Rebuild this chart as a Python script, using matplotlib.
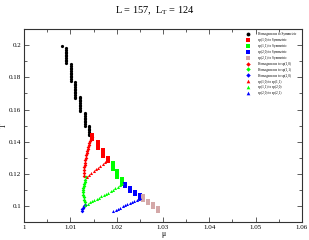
import matplotlib
matplotlib.use("Agg")
import matplotlib.pyplot as plt
from matplotlib.ticker import MultipleLocator

plt.rcParams['font.family'] = ['Liberation Serif', 'DejaVu Serif']

# Homogeneous to Symmetric (black circles)
hs_mu = [1.0081,
         1.0091, 1.0091, 1.0091, 1.0091, 1.0091, 1.0091, 1.0091, 1.0091, 1.0091, 1.0091,
         1.0101, 1.0101, 1.0101, 1.0101, 1.0101, 1.0101, 1.0101, 1.0101, 1.0101, 1.0101, 1.0101,
         1.0111, 1.0111, 1.0111, 1.0111, 1.0111, 1.0111, 1.0111, 1.0111, 1.0111, 1.0111, 1.0111,
         1.0121, 1.0121, 1.0121, 1.0121, 1.0121, 1.0121, 1.0121, 1.0121, 1.0121, 1.0121,
         1.0131, 1.0131, 1.0131, 1.0131, 1.0131, 1.0131, 1.0131, 1.0131, 1.0131,
         1.0141, 1.0141, 1.0141, 1.0141, 1.0141, 1.0141, 1.0141]
hs_T = [0.1996,
        0.198, 0.197, 0.196, 0.195, 0.194, 0.193, 0.192, 0.191, 0.190, 0.189,
        0.188, 0.187, 0.186, 0.185, 0.184, 0.183, 0.182, 0.181, 0.180, 0.179, 0.178,
        0.177, 0.176, 0.175, 0.174, 0.173, 0.172, 0.171, 0.170, 0.169, 0.168, 0.167,
        0.168, 0.167, 0.166, 0.165, 0.164, 0.163, 0.162, 0.161, 0.160, 0.159,
        0.158, 0.157, 0.156, 0.155, 0.154, 0.153, 0.152, 0.151, 0.150,
        0.150, 0.149, 0.148, 0.147, 0.146, 0.145, 0.144]

# sp(1,0) to Symmetric (red squares)
s10_mu = [1.0146, 1.0146, 1.0146, 1.0160, 1.0160, 1.0160, 1.0160, 1.0160,
          1.0171, 1.0171, 1.0171, 1.0171, 1.0171, 1.0181, 1.0181, 1.0181]
s10_T = [0.144, 0.143, 0.142, 0.140, 0.139, 0.138, 0.137, 0.136,
         0.135, 0.134, 0.133, 0.132, 0.131, 0.130, 0.129, 0.128]

# sp(1,1) to Symmetric (green squares)
s11_mu = [1.0191, 1.0191, 1.0191, 1.0191, 1.0191, 1.0200, 1.0200, 1.0200, 1.0200, 1.0200,
          1.0211, 1.0211, 1.0211, 1.0211]
s11_T = [0.127, 0.126, 0.125, 0.124, 0.123, 0.122, 0.121, 0.120, 0.119, 0.118,
         0.117, 0.116, 0.115, 0.114]

# sp(2,0) to Symmetric (blue squares)
s20_mu = [1.0218, 1.0218, 1.0229, 1.0229, 1.0240, 1.0240, 1.0250, 1.0250]
s20_T = [0.114, 0.1125, 0.111, 0.1095, 0.109, 0.1075, 0.107, 0.105]

# sp(2,1) to Symmetric (pink squares)
s21_mu = [1.0257, 1.0257, 1.0268, 1.0268, 1.0279, 1.0279, 1.0290, 1.0290]
s21_T = [0.106, 0.104, 0.1035, 0.102, 0.1015, 0.0995, 0.099, 0.0970]

# Homogeneous to sp(1,0) (red diamonds)
h10_mu = [1.0146, 1.0144, 1.0143, 1.0141, 1.0140, 1.0139, 1.0138, 1.0136, 1.0135,
          1.0134, 1.0133, 1.0132, 1.0131, 1.0131, 1.0130, 1.0130, 1.0130, 1.0130]
h10_T = [0.1430, 0.1415, 0.1405, 0.1392, 0.1380, 0.1367, 0.1355, 0.1342, 0.1330,
         0.1315, 0.1300, 0.1285, 0.1268, 0.1255, 0.1240, 0.1225, 0.1205, 0.1185]

# Homogeneous to sp(1,1) (green diamonds)
h11_mu = [1.0134, 1.0132, 1.0131, 1.0130, 1.0129, 1.0128, 1.0128, 1.0128, 1.0128,
          1.0129, 1.0130, 1.0131, 1.0132]
h11_T = [0.1181, 0.1165, 0.1150, 0.1138, 0.1125, 0.1112, 0.1100, 0.1085, 0.1070,
         0.1057, 0.1040, 0.1025, 0.1007]

# Homogeneous to sp(2,0) (blue diamonds)
h20_mu = [1.0132, 1.0130, 1.0128, 1.0126, 1.0125]
h20_T = [0.1007, 0.0998, 0.0990, 0.0980, 0.0972]

# sp(1,0) to sp(1,1) (red triangles)
t1_mu = [1.0135, 1.0140, 1.0145, 1.0150, 1.0155, 1.0160, 1.0165, 1.0170, 1.0175, 1.0180]
t1_T = [0.1183, 0.1195, 0.1206, 0.1217, 0.1228, 0.1239, 0.1250, 0.1262, 0.1273, 0.1285]

# sp(1,1) to sp(2,0) (green triangles)
t2_mu = [1.0132, 1.0137, 1.0142, 1.0147, 1.0152, 1.0157, 1.0162, 1.0167, 1.0172,
         1.0177, 1.0182, 1.0187, 1.0192, 1.0197, 1.0202, 1.0207, 1.0211]
t2_T = [0.1007, 0.1016, 0.1024, 0.1031, 0.1038, 0.1046, 0.1053, 0.1060, 0.1067,
        0.1075, 0.1083, 0.1092, 0.1101, 0.1111, 0.1121, 0.1132, 0.1142]

# sp(2,0) to sp(2,1) (blue triangles)
t3_mu = [1.0193, 1.0198, 1.0203, 1.0208, 1.0213, 1.0218, 1.0223, 1.0228, 1.0233,
         1.0238, 1.0243, 1.0248, 1.0250]
t3_T = [0.0972, 0.0978, 0.0985, 0.0991, 0.0998, 0.1005, 0.1012, 0.1018, 0.1025,
        0.1031, 0.1038, 0.1045, 0.1049]

x_ticks = [1.0, 1.01, 1.02, 1.03, 1.04, 1.05, 1.06]
x_labels = ['1', '1.01', '1.02', '1.03', '1.04', '1.05', '1.06']
y_ticks = [0.1, 0.12, 0.14, 0.16, 0.18, 0.2]
y_labels = ['0.1', '0.12', '0.14', '0.16', '0.18', '0.2']

pink = '#d4a8a8'

fig = plt.figure(figsize=(3.09, 2.40), dpi=100)
ax = fig.add_axes([0.078, 0.074, 0.899, 0.805])

ms = 2.3
ax.plot(hs_mu, hs_T, 'o', color='black', ms=2.3, mew=0, label='Homogeneous to Symmetric')
ax.plot(s10_mu, s10_T, 's', color='red', ms=ms, mew=0, label='sp(1,0) to Symmetric')
ax.plot(s11_mu, s11_T, 's', color='#00ff00', ms=ms, mew=0, label='sp(1,1) to Symmetric')
ax.plot(s20_mu, s20_T, 's', color='blue', ms=ms, mew=0, label='sp(2,0) to Symmetric')
ax.plot(s21_mu, s21_T, 's', color=pink, ms=ms, mew=0, label='sp(2,1) to Symmetric')
ax.plot(h10_mu, h10_T, 'D', color='red', ms=1.9, mew=0, label='Homogeneous to sp(1,0)')
ax.plot(h11_mu, h11_T, 'D', color='#00ff00', ms=1.9, mew=0, label='Homogeneous to sp(1,1)')
ax.plot(h20_mu, h20_T, 'D', color='blue', ms=1.9, mew=0, label='Homogeneous to sp(2,0)')
ax.plot(t1_mu, t1_T, '^', color='red', ms=2.2, mew=0, label='sp(1,0) to sp(1,1)')
ax.plot(t2_mu, t2_T, '^', color='#00ff00', ms=2.2, mew=0, label='sp(1,1) to sp(2,0)')
ax.plot(t3_mu, t3_T, '^', color='blue', ms=2.2, mew=0, label='sp(2,0) to sp(2,1)')

ax.set_xlim(1.0, 1.06)
ax.set_ylim(0.09, 0.21)
ax.set_xticks(x_ticks)
ax.set_xticklabels(x_labels)
ax.set_yticks(y_ticks)
ax.set_yticklabels(y_labels)
ax.xaxis.set_minor_locator(MultipleLocator(0.005))
ax.yaxis.set_minor_locator(MultipleLocator(0.01))
ax.tick_params(which='both', direction='in', top=True, right=True, labelsize=5, pad=2,
               width=0.6, color='#444444')
ax.tick_params(which='major', length=3.5)
ax.tick_params(which='minor', length=2)
for s in ax.spines.values():
    s.set_linewidth(0.8)
    s.set_color('#333333')

ax.set_xlabel('\u03bc', fontsize=5.5, labelpad=0)
ax.set_ylabel('T', fontsize=5.5, labelpad=1)
fig.text(0.5, 0.955, 'L = 157,  L$_\\mathregular{T}$ = 124', ha='center', va='center', fontsize=7.5)

ax.legend(loc='upper right', bbox_to_anchor=(0.978, 0.984), fontsize=2.4, frameon=False,
          handlelength=1, handletextpad=2.5, labelspacing=0.55, markerscale=1.2,
          borderaxespad=0, borderpad=0, numpoints=1)

fig.savefig('out.png', dpi=100)
